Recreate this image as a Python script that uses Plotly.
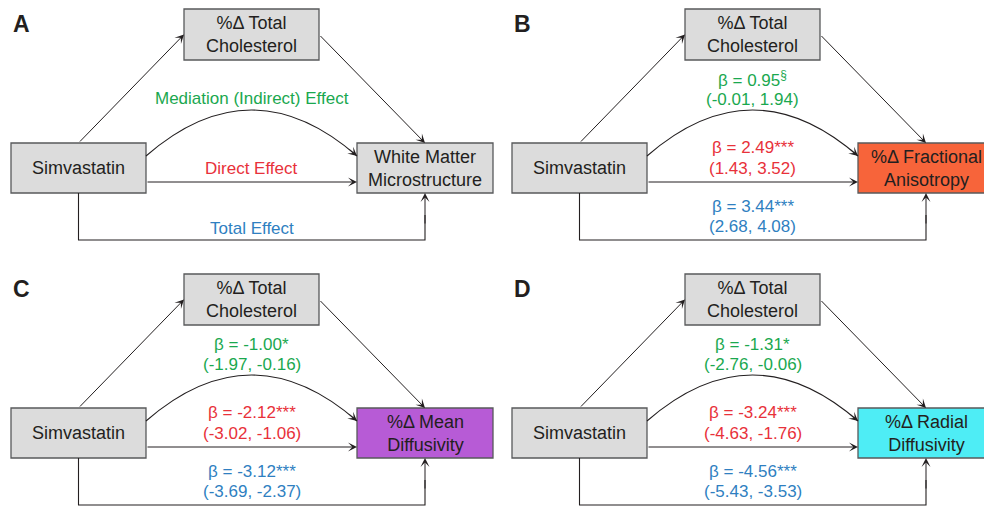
import plotly.graph_objects as go

# ---------------- data ----------------
panel_labels = ["A", "B", "C", "D"]
exposure_label = "Simvastatin"
mediator_label = "%Δ Total<br>Cholesterol"
outcome_labels = ["White Matter<br>Microstructure", "%Δ Fractional<br>Anisotropy",
                  "%Δ Mean<br>Diffusivity", "%Δ Radial<br>Diffusivity"]
effect_names = ["Mediation (Indirect) Effect", "Direct Effect", "Total Effect"]

indirect_beta = [None, 0.95, -1.00, -1.31]
indirect_ci = [None, (-0.01, 1.94), (-1.97, -0.16), (-2.76, -0.06)]
indirect_sig = ["", "§", "*", "*"]

direct_beta = [None, 2.49, -2.12, -3.24]
direct_ci = [None, (1.43, 3.52), (-3.02, -1.06), (-4.63, -1.76)]
direct_sig = ["", "***", "***", "***"]

total_beta = [None, 3.44, -3.12, -4.56]
total_ci = [None, (2.68, 4.08), (-3.69, -2.37), (-5.43, -3.53)]
total_sig = ["", "***", "***", "***"]

# ---------------- styles / layout ----------------
W, H = 984, 506
FONT = "Liberation Sans, Arial, Helvetica, sans-serif"
TXT = "#231f20"
LINE = "#231f20"
BORDER = "#58595b"
BOX_FILL = "#dcdcdc"
outcome_fill = ["#dcdcdc", "#f7643a", "#b75bd6", "#4eedf5"]
C_IND, C_DIR, C_TOT = "#1aa84f", "#e8313a", "#2f7fc1"
panel_offsets = [(0, 0), (501, 0), (0, 265), (501, 265)]

shapes = []
annotations = []


def box(x0, y0, x1, y1, fill, text):
    shapes.append(dict(type="rect", xref="x", yref="y", x0=x0, y0=y0, x1=x1, y1=y1,
                       fillcolor=fill, line=dict(color=BORDER, width=1.3), layer="below"))
    annotations.append(dict(x=(x0 + x1) / 2, y=(y0 + y1) / 2, xref="x", yref="y",
                            text=text, showarrow=False, xanchor="center", yanchor="middle",
                            font=dict(family=FONT, size=18, color=TXT)))


def arrow(tx, ty, hx, hy):
    annotations.append(dict(x=hx, y=hy, ax=tx, ay=ty, xref="x", yref="y", axref="x", ayref="y",
                            text="", showarrow=True, arrowhead=3, arrowsize=1.5, arrowwidth=1,
                            arrowcolor=LINE, standoff=0, startstandoff=0))


def label(x, y, text, color, size=17):
    annotations.append(dict(x=x, y=y, xref="x", yref="y", text=text, showarrow=False,
                            xanchor="center", yanchor="middle",
                            font=dict(family=FONT, size=size, color=color)))


def sig_text(sig):
    if sig == "§":
        return "<sup>§</sup>"
    return sig


for i in range(4):
    dx, dy = panel_offsets[i]
    # panel letter
    annotations.append(dict(x=11 + dx, y=24 + dy, xref="x", yref="y", text="<b>%s</b>" % panel_labels[i],
                            showarrow=False, xanchor="left", yanchor="middle",
                            font=dict(family=FONT, size=23, color=TXT)))
    # boxes
    box(184 + dx, 9 + dy, 319 + dx, 60 + dy, BOX_FILL, mediator_label)
    box(11 + dx, 143 + dy, 146 + dx, 193 + dy, BOX_FILL, exposure_label)
    box(357 + dx, 143 + dy, 493 + dx, 193 + dy, outcome_fill[i], outcome_labels[i])

    # exposure -> mediator -> outcome
    arrow(78.5 + dx, 143 + dy, 184 + dx, 34.5 + dy)
    arrow(319 + dx, 34.5 + dy, 425 + dx, 143 + dy)
    # curved indirect arrow
    sx, sy = 146 + dx, 156 + dy
    ex, ey = 357 + dx, 156 + dy
    cx, cy = 251.5 + dx, 64 + dy
    shapes.append(dict(type="path", xref="x", yref="y",
                       path="M %f,%f Q %f,%f %f,%f" % (sx, sy, cx, cy, ex, ey),
                       line=dict(color=LINE, width=1.1)))
    tdx, tdy = ex - cx, ey - cy
    n = (tdx ** 2 + tdy ** 2) ** 0.5
    arrow(ex - tdx / n * 12, ey - tdy / n * 12, ex, ey)
    # direct arrow
    arrow(146 + dx, 182 + dy, 357 + dx, 182 + dy)
    # total effect path
    shapes.append(dict(type="path", xref="x", yref="y",
                       path="M %f,%f L %f,%f L %f,%f L %f,%f" % (78.5 + dx, 193 + dy, 78.5 + dx, 240 + dy,
                                                              425 + dx, 240 + dy, 425 + dx, 215 + dy),
                       line=dict(color=LINE, width=1.1)))
    arrow(425 + dx, 225 + dy, 425 + dx, 193 + dy)

    mx = 251.5 + dx
    if indirect_beta[i] is None:
        label(mx, 98 + dy, effect_names[0], C_IND)
        label(mx, 168 + dy, effect_names[1], C_DIR)
        label(mx, 228 + dy, effect_names[2], C_TOT)
    else:
        for (b, ci, sig, col, y1, y2) in [
            (indirect_beta[i], indirect_ci[i], indirect_sig[i], C_IND, 79, 99),
            (direct_beta[i], direct_ci[i], direct_sig[i], C_DIR, 147, 168),
            (total_beta[i], total_ci[i], total_sig[i], C_TOT, 206, 226),
        ]:
            label(mx, y1 + dy, "β = %.2f%s" % (b, sig_text(sig)), col)
            label(mx, y2 + dy, "(%.2f, %.2f)" % ci, col)

fig = go.Figure()
fig.update_layout(
    width=W, height=H, margin=dict(l=0, r=0, t=0, b=0),
    paper_bgcolor="white", plot_bgcolor="white",
    xaxis=dict(range=[0, W], visible=False, fixedrange=True),
    yaxis=dict(range=[H, 0], visible=False, fixedrange=True),
    shapes=shapes, annotations=annotations, showlegend=False,
)
fig.write_html("out.html", config={"displayModeBar": False})

# remove the browser's default page margin so the figure starts at the window corner
with open("out.html", encoding="utf-8") as f:
    html = f.read()
html = html.replace("<head>", "<head><style>html,body{margin:0;padding:0;overflow:hidden;}</style>", 1)
with open("out.html", "w", encoding="utf-8") as f:
    f.write(html)
